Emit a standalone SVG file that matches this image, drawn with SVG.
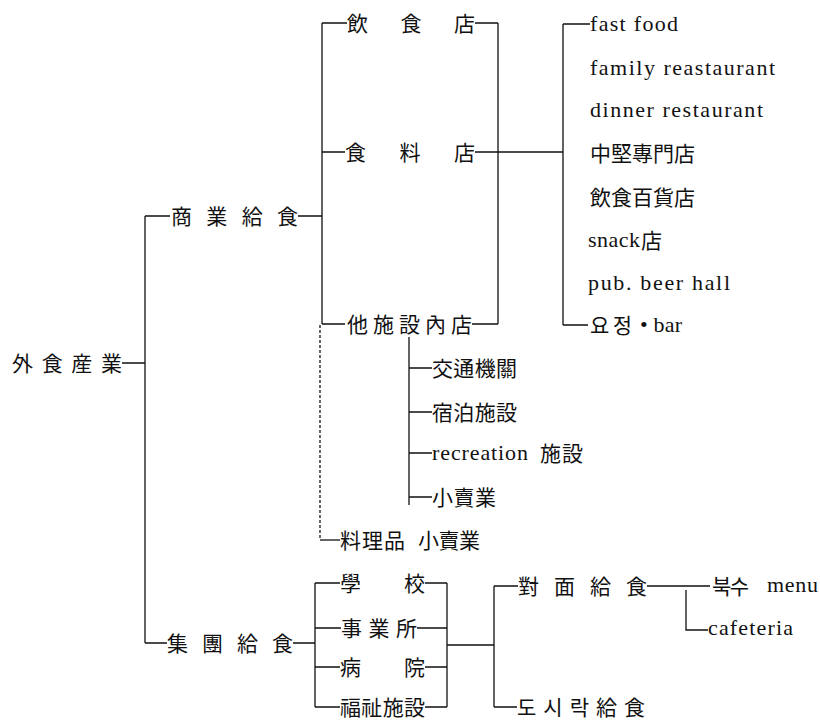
<svg xmlns="http://www.w3.org/2000/svg" width="820" height="724" viewBox="0 0 820 724">
<style>
.c{font-family:"Noto Sans CJK KR","Noto Sans CJK TC",sans-serif;font-size:21px;fill:#111;}
.l{font-family:"Liberation Serif","DejaVu Serif",serif;font-size:22px;fill:#111;}
.ln{stroke:#111;stroke-width:1.3;fill:none;}
.dsh{stroke:#111;stroke-width:1.3;fill:none;stroke-dasharray:3 2;}
</style>
<rect width="820" height="724" fill="#fff"/>
<g id="connectors">
<path class="ln" d="M122 363H145M145 216V643"/>
<path class="ln" d="M145 216H170M298 216H322M322 23V324"/>
<path class="dsh" d="M320 325V540"/>
<path class="ln" d="M322 23H347M475 23H498M322 152H345M475 152H498M322 324H345M472 324H498M498 23V324"/>
<path class="ln" d="M498 152H563M563 24V325M563 24H590M563 325H588"/>
<path class="ln" d="M409 337V505M409 368H432M409 412H432M409 453H432M409 497H432"/>
<path class="ln" d="M320 540H340"/>
<path class="ln" d="M145 643H167M293 643H315M315 583V707"/>
<path class="ln" d="M315 583H340M425 583H447M315 628H341M417 628H447M315 667H340M425 667H447M315 707H340M425 707H447M447 583V707"/>
<path class="ln" d="M447 645H494M494 586V707M494 586H518M494 707H517"/>
<path class="ln" d="M647 586H710M686 590V630H708"/>
</g>
<g id="n-root"><text class="c" x="12" y="371" textLength="110" lengthAdjust="spacing">外 食 産 業</text></g>
<g id="n-commercial"><text class="c" x="171" y="224" textLength="127" lengthAdjust="spacing">商 業 給 食</text></g>
<g id="n-restaurant"><text class="c" x="347" y="31" textLength="128" lengthAdjust="spacing">飲 食 店</text></g>
<g id="n-foodshop"><text class="c" x="345" y="160" textLength="130" lengthAdjust="spacing">食 料 店</text></g>
<g id="n-otherfac"><text class="c" x="347" y="332" textLength="125" lengthAdjust="spacing">他施設內店</text></g>
<g id="n-types">
<text class="l" x="590" y="31" textLength="88" lengthAdjust="spacing">fast food</text>
<text class="l" x="590" y="75" textLength="185" lengthAdjust="spacing">family reastaurant</text>
<text class="l" x="590" y="117" textLength="173" lengthAdjust="spacing">dinner restaurant</text>
<text class="c" x="590" y="161" textLength="105" lengthAdjust="spacing">中堅專門店</text>
<text class="c" x="590" y="205" textLength="105" lengthAdjust="spacing">飲食百貨店</text>
<text class="l" x="588" y="247" textLength="52" lengthAdjust="spacing">snack</text><text class="c" x="641" y="248">店</text>
<text class="l" x="588" y="290" textLength="142" lengthAdjust="spacing">pub. beer hall</text>
<text class="c" x="590" y="333" textLength="42" lengthAdjust="spacing">요정</text><text class="l" x="640" y="332" textLength="42" lengthAdjust="spacing">• bar</text>
</g>
<g id="n-transport"><text class="c" x="432" y="376" textLength="85" lengthAdjust="spacing">交通機關</text></g>
<g id="n-lodging"><text class="c" x="432" y="420" textLength="85" lengthAdjust="spacing">宿泊施設</text></g>
<g id="n-recreation"><text class="l" x="432" y="460" textLength="96" lengthAdjust="spacing">recreation</text><text class="c" x="540" y="461" textLength="43" lengthAdjust="spacing">施設</text></g>
<g id="n-retail"><text class="c" x="432" y="505" textLength="64" lengthAdjust="spacing">小賣業</text></g>
<g id="n-prepared"><text class="c" x="340" y="548" textLength="65" lengthAdjust="spacing">料理品</text><text class="c" x="418" y="548" textLength="62" lengthAdjust="spacing">小賣業</text></g>
<g id="n-group"><text class="c" x="167" y="651" textLength="126" lengthAdjust="spacing">集 團 給 食</text></g>
<g id="n-school"><text class="c" x="340" y="591" textLength="85" lengthAdjust="spacing">學 校</text></g>
<g id="n-office"><text class="c" x="341" y="636" textLength="76" lengthAdjust="spacing">事 業 所</text></g>
<g id="n-hospital"><text class="c" x="340" y="675" textLength="85" lengthAdjust="spacing">病 院</text></g>
<g id="n-welfare"><text class="c" x="340" y="715" textLength="85" lengthAdjust="spacing">福祉施設</text></g>
<g id="n-facetoface"><text class="c" x="518" y="594" textLength="129" lengthAdjust="spacing">對 面 給 食</text></g>
<g id="n-lunchbox"><text class="c" x="517" y="715" textLength="128" lengthAdjust="spacing">도 시 락 給 食</text></g>
<g id="n-multimenu"><text class="c" x="712" y="594" textLength="37" lengthAdjust="spacing">북수</text><text class="l" x="767" y="592" textLength="51" lengthAdjust="spacing">menu</text></g>
<g id="n-cafeteria"><text class="l" x="708" y="635" textLength="85" lengthAdjust="spacing">cafeteria</text></g>
</svg>
